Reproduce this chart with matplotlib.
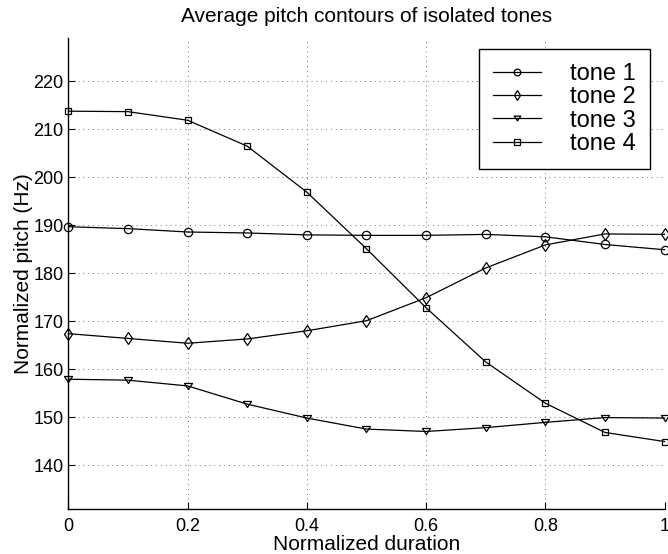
import numpy as np
import matplotlib as mpl
mpl.use("Agg")
import matplotlib.pyplot as plt
from matplotlib.path import Path

plt.rcParams['font.family'] = ['Liberation Sans', 'DejaVu Sans']

# normalized time axis and mean pitch contour per tone (Hz)
duration = [0.0, 0.1, 0.2, 0.3, 0.4, 0.5, 0.6, 0.7, 0.8, 0.9, 1.0]
tone1 = [189.7, 189.3, 188.6, 188.4, 188.0, 187.9, 187.9, 188.1, 187.6, 186.0, 184.9]
tone2 = [167.4, 166.4, 165.4, 166.3, 168.0, 170.1, 174.9, 181.1, 185.9, 188.2, 188.1]
tone3 = [157.9, 157.7, 156.5, 152.7, 149.8, 147.5, 147.0, 147.8, 148.9, 149.9, 149.8]
tone4 = [213.8, 213.7, 211.9, 206.5, 196.9, 185.1, 172.8, 161.5, 152.9, 146.8, 144.9]

tone_labels = ["tone 1", "tone 2", "tone 3", "tone 4"]
x_ticks = [0, 0.2, 0.4, 0.6, 0.8, 1]
x_ticklabels = ["0", "0.2", "0.4", "0.6", "0.8", "1"]
y_ticks = [140, 150, 160, 170, 180, 190, 200, 210, 220]


def main():
    fig = plt.figure(figsize=(6.68, 5.54), dpi=100)
    ax = fig.add_axes([0.1025, 0.0818, 0.8923, 0.8491])

    # flat downward triangle, wider than tall
    tri_down = Path([(-1, 0.75), (1, 0.75), (0, -0.75), (-1, 0.75)],
                    [Path.MOVETO, Path.LINETO, Path.LINETO, Path.CLOSEPOLY])

    markers = ['o', 'd', tri_down, 's']
    sizes = [6.0, 6.5, 5.8, 4.8]
    for vals, mk, ms, lab in zip([tone1, tone2, tone3, tone4], markers, sizes, tone_labels):
        ax.plot(duration, vals, color='black', linewidth=0.9, marker=mk,
                markersize=ms, markerfacecolor='none', markeredgecolor='black',
                markeredgewidth=0.9, label=lab, clip_on=False, zorder=3)

    ax.set_xlim(0, 1)
    ax.set_ylim(130.9, 229)
    ax.set_xticks(x_ticks)
    ax.set_xticklabels(x_ticklabels)
    ax.set_yticks(y_ticks)
    ax.tick_params(direction='in', length=5, width=0.8, labelsize=13, colors='black')
    ax.tick_params(axis='x', pad=7)
    ax.tick_params(axis='y', pad=3.5)

    ax.grid(True, linestyle=(0, (1, 4)), color='0.45', linewidth=0.7)
    ax.spines['top'].set_visible(False)
    ax.spines['right'].set_visible(False)
    ax.spines['left'].set_linewidth(1.0)
    ax.spines['bottom'].set_linewidth(1.0)

    ax.set_xlabel("Normalized duration", fontsize=15, labelpad=0)
    ax.set_ylabel("Normalized pitch (Hz)", fontsize=15, labelpad=0)
    ax.set_title("Average pitch contours of isolated tones", fontsize=15, pad=12)

    leg = ax.legend(loc='upper right', bbox_to_anchor=(0.9757, 0.977),
                    fontsize=17, handlelength=2.0, handletextpad=1.25,
                    labelspacing=0.05, borderpad=0.6, numpoints=1,
                    markerscale=0.8, fancybox=False, framealpha=1,
                    edgecolor='black', borderaxespad=0)
    leg.get_frame().set_linewidth(1.0)

    fig.savefig("out.png", dpi=100)
    plt.close(fig)


if __name__ == "__main__":
    main()
